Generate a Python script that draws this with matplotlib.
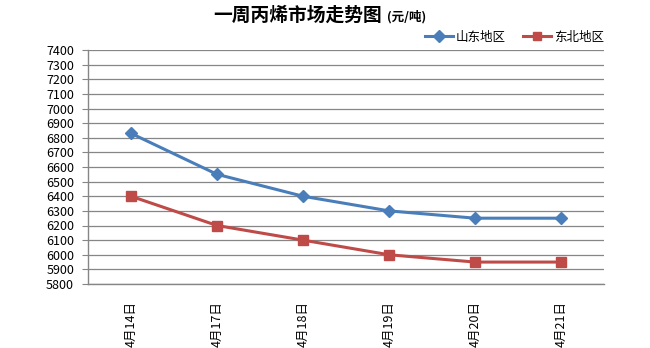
import matplotlib.pyplot as plt
import numpy as np

plt.rcParams['font.family'] = ['Noto Sans CJK SC', 'DejaVu Sans']

dates = ['4月14日', '4月17日', '4月18日', '4月19日', '4月20日', '4月21日']
shandong = [6830, 6550, 6400, 6300, 6250, 6250]
dongbei = [6400, 6200, 6100, 6000, 5950, 5950]

blue = '#4A7EBB'
red = '#BE4B48'
grid_c = '#868686'

fig = plt.figure(figsize=(6.5, 3.48), dpi=100)
ax = fig.add_axes([88 / 650, 1 - 284 / 348, 516 / 650, 234 / 348])

x = np.arange(len(dates))
ax.plot(x, shandong, color=blue, lw=2.2, marker='D', ms=6.5, label='山东地区')
ax.plot(x, dongbei, color=red, lw=2.2, marker='s', ms=7, label='东北地区')

ax.set_xlim(-0.5, len(dates) - 0.5)
ax.set_ylim(5800, 7400)
ax.set_yticks(np.arange(5800, 7401, 100))
ax.yaxis.grid(True, color=grid_c, lw=0.9)
ax.set_axisbelow(True)

ax.set_xticks(x)
ax.set_xticklabels(dates, rotation=90, fontsize=9)
ax.tick_params(axis='x', length=0, pad=12)
ax.tick_params(axis='y', length=4, color=grid_c, labelsize=9, pad=6)

for s in ['top', 'right']:
    ax.spines[s].set_visible(False)
for s in ['left', 'bottom']:
    ax.spines[s].set_color(grid_c)
    ax.spines[s].set_linewidth(1)

fig.text(0.328, 0.957, '一周丙烯市场走势图', fontsize=13.5, fontweight='bold', va='center', ha='left')
fig.text(0.596, 0.952, '(元/吨)', fontsize=9, fontweight='bold', va='center', ha='left')

fig.legend(loc='center right', bbox_to_anchor=(604 / 650, 1 - 37 / 348), ncol=2, frameon=False,
           fontsize=9, handlelength=2.2, columnspacing=1.4, handletextpad=0.25,
           borderpad=0, borderaxespad=0, markerscale=0.9)

fig.savefig('out.png', dpi=100)
